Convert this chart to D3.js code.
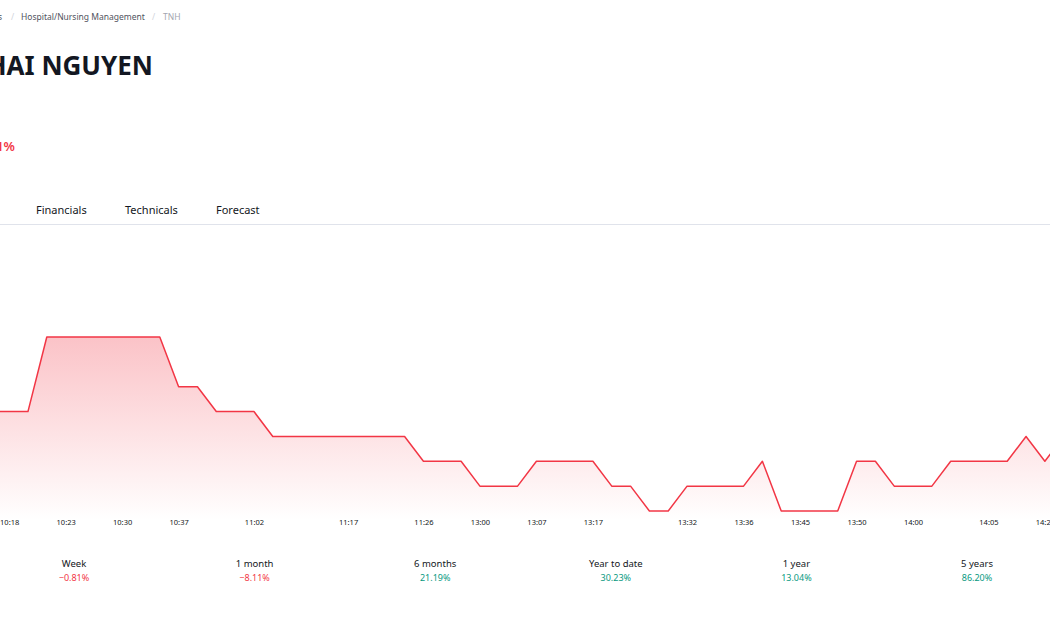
<!DOCTYPE html>
<html>
<head>
<meta charset="utf-8">
<script src="https://cdn.jsdelivr.net/npm/d3@7"></script>
<style>
  body { margin: 0; background: #fff; }
  svg { display: block; font-family: "Noto Sans", "DejaVu Sans", sans-serif; }
</style>
</head>
<body>
<div id="chart"></div>
<script>
// intraday samples (equal spacing by index)
const times = ["10:16", "10:18", "10:20", "10:21", "10:23", "10:25", "10:28", "10:30", "10:33", "10:35",
    "10:37", "10:45", "10:51", "10:58", "11:02", "11:05", "11:08", "11:11", "11:14", "11:17",
    "11:19", "11:22", "11:24", "11:26", "11:28", "11:29", "13:00", "13:03", "13:05", "13:07",
    "13:10", "13:14", "13:17", "13:20", "13:24", "13:27", "13:30", "13:32", "13:33", "13:35",
    "13:36", "13:39", "13:41", "13:45", "13:47", "13:49", "13:50", "13:53", "13:55", "14:00",
    "14:01", "14:02", "14:04", "14:05", "14:10", "14:15", "14:21", "14:26"];
const prices = [18.60, 18.60, 18.60, 18.75, 18.75, 18.75, 18.75, 18.75, 18.75, 18.75,
    18.65, 18.65, 18.60, 18.60, 18.60, 18.55, 18.55, 18.55, 18.55, 18.55,
    18.55, 18.55, 18.55, 18.50, 18.50, 18.50, 18.45, 18.45, 18.45, 18.50,
    18.50, 18.50, 18.50, 18.45, 18.45, 18.40, 18.40, 18.45, 18.45, 18.45,
    18.45, 18.50, 18.40, 18.40, 18.40, 18.40, 18.50, 18.50, 18.45, 18.45,
    18.45, 18.50, 18.50, 18.50, 18.50, 18.55, 18.50, 18.55];
const tickTimes = ["10:18", "10:23", "10:30", "10:37", "11:02", "11:17", "11:26", "13:00", "13:07",
    "13:17", "13:32", "13:36", "13:45", "13:50", "14:00", "14:05", "14:21"];

const tabs = ["Financials", "Technicals", "Forecast"];
const periods = ["Week", "1 month", "6 months", "Year to date", "1 year", "5 years"];
const periodChanges = [-0.81, -8.11, 21.19, 30.23, 13.04, 86.20];

const red = "#f23645", green = "#089981", ink = "#131722";

const svg = d3.select("#chart").append("svg")
    .attr("width", 1050)
    .attr("height", 630);

// header (page is scrolled so left part is cut)
const crumb = svg.append("text").attr("y", 20).attr("font-size", 8.5);
crumb.append("tspan").attr("x", -2).attr("fill", "#50535e").text("s");
crumb.append("tspan").attr("x", 11).attr("fill", "#d1d4dc").text("/");
crumb.append("tspan").attr("x", 21).attr("fill", "#50535e").text("Hospital/Nursing Management");
crumb.append("tspan").attr("x", 152).attr("fill", "#d1d4dc").text("/");
crumb.append("tspan").attr("x", 163).attr("fill", "#a3a6af").text("TNH");

svg.append("text")
    .attr("x", 153).attr("y", 75)
    .attr("text-anchor", "end")
    .attr("font-size", 26).attr("font-weight", 700)
    .attr("fill", ink)
    .text("THAI NGUYEN");

svg.append("text")
    .attr("x", 15).attr("y", 151)
    .attr("text-anchor", "end")
    .attr("font-size", 13).attr("font-weight", 600)
    .attr("fill", red)
    .text("−0.81%");

svg.selectAll(".tab")
    .data(tabs)
    .enter().append("text")
    .attr("class", "tab")
    .attr("x", (d, i) => [36, 125, 216][i])
    .attr("y", 214)
    .attr("font-size", 11)
    .attr("fill", ink)
    .text(d => d);

svg.append("line")
    .attr("x1", 0).attr("x2", 1050)
    .attr("y1", 224.5).attr("y2", 224.5)
    .attr("stroke", "#e0e3eb");

// scales
const x = d3.scalePoint()
    .domain(times)
    .range([-9.7, 1063.7]);

const y = d3.scaleLinear()
    .domain([18.40, 18.75])
    .range([511, 337]);

const defs = svg.append("defs");
const grad = defs.append("linearGradient")
    .attr("id", "fade")
    .attr("gradientUnits", "userSpaceOnUse")
    .attr("x1", 0).attr("x2", 0)
    .attr("y1", y(18.75)).attr("y2", 520);
grad.append("stop").attr("offset", 0).attr("stop-color", red).attr("stop-opacity", 0.3);
grad.append("stop").attr("offset", 1).attr("stop-color", red).attr("stop-opacity", 0);

const area = d3.area()
    .x((d, i) => x(times[i]))
    .y0(520)
    .y1(d => y(d));

const line = d3.line()
    .x((d, i) => x(times[i]))
    .y(d => y(d));

svg.append("path")
    .datum(prices)
    .attr("d", area)
    .attr("fill", "url(#fade)");

svg.append("path")
    .datum(prices)
    .attr("d", line)
    .attr("fill", "none")
    .attr("stroke", red)
    .attr("stroke-width", 1.5)
    .attr("stroke-linejoin", "round");

// time axis, labels only
const xAxis = d3.axisBottom(x)
    .tickValues(tickTimes)
    .tickSize(0)
    .tickPadding(0);

const gx = svg.append("g")
    .attr("transform", "translate(0,520)")
    .call(xAxis);
gx.select(".domain").remove();
gx.selectAll("text")
    .attr("font-family", "\"Noto Sans\", sans-serif")
    .attr("font-size", 7.5)
    .attr("fill", ink);

// performance strip
const px = d3.scalePoint()
    .domain(periods)
    .range([74, 977]);

const perf = svg.selectAll(".perf")
    .data(periods)
    .enter().append("g")
    .attr("class", "perf")
    .attr("transform", d => `translate(${px(d)},0)`);

perf.append("text")
    .attr("y", 567)
    .attr("text-anchor", "middle")
    .attr("font-size", 9.5)
    .attr("fill", ink)
    .text(d => d);

perf.append("text")
    .attr("y", 581)
    .attr("text-anchor", "middle")
    .attr("font-size", 9)
    .attr("fill", (d, i) => periodChanges[i] < 0 ? red : green)
    .text((d, i) => (periodChanges[i] < 0 ? "−" : "") + Math.abs(periodChanges[i]).toFixed(2) + "%");
</script>
</body>
</html>
